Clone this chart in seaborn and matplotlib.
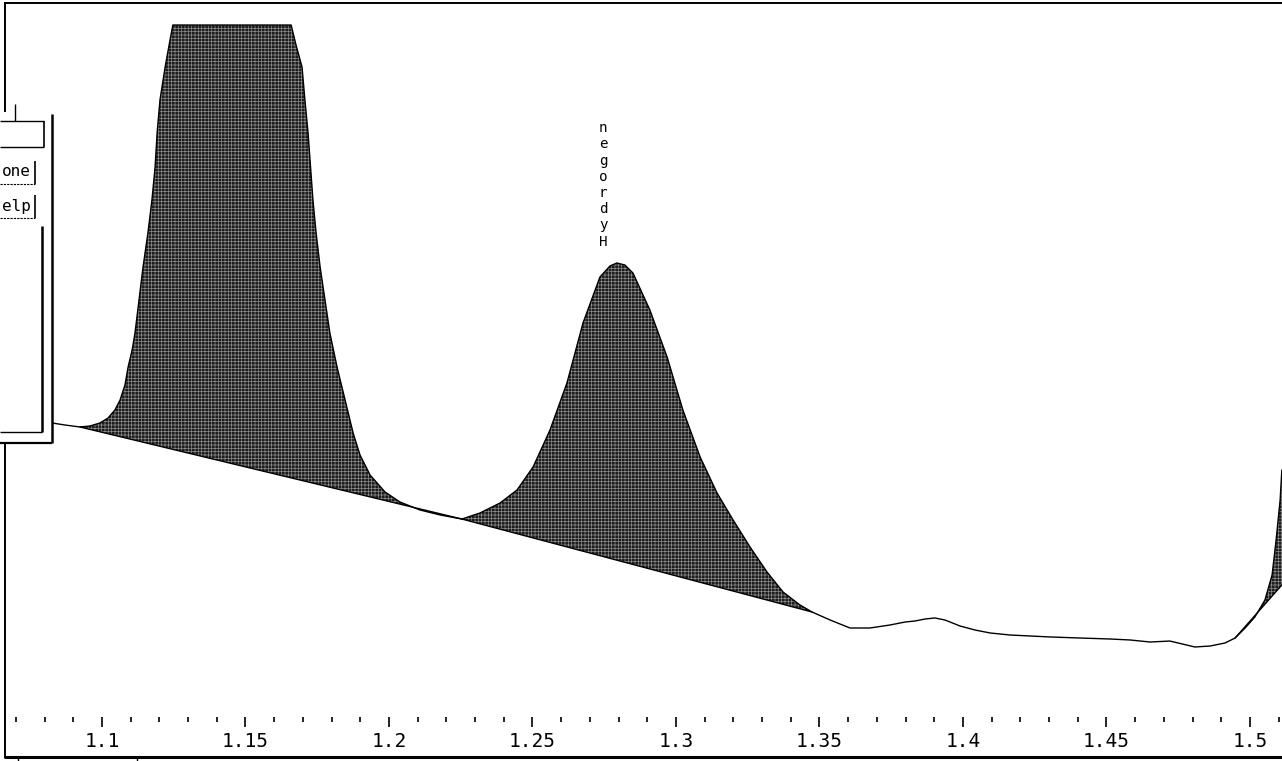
import numpy as np
import pandas as pd
import matplotlib
matplotlib.use("Agg")
import matplotlib.pyplot as plt
from matplotlib.patches import Rectangle
import seaborn as sns

# ---------------- data ----------------
# retention time (min)
time = [1.0826, 1.0871, 1.0923, 1.0958, 1.0993, 1.1021, 1.1045, 1.1063, 1.1080,
        1.1091, 1.1105, 1.1115, 1.1129, 1.1143, 1.1160, 1.1174, 1.1185, 1.1192,
        1.1202, 1.1220, 1.1237, 1.1247, 1.1659, 1.1676, 1.1697, 1.1707, 1.1718,
        1.1735, 1.1746, 1.1760, 1.1777, 1.1794, 1.1819, 1.1847, 1.1875, 1.1899,
        1.1934, 1.1986, 1.2038, 1.2108, 1.2178, 1.2254, 1.2317, 1.2387, 1.2446,
        1.2502, 1.2561, 1.2620, 1.2676, 1.2735, 1.2770, 1.2794, 1.2822, 1.2850,
        1.2909, 1.2969, 1.3024, 1.3084, 1.3143, 1.3199, 1.3258, 1.3317, 1.3373,
        1.3432, 1.3474, 1.3537, 1.3606, 1.3676, 1.3746, 1.3798, 1.3833, 1.3868,
        1.3902, 1.3937, 1.3990, 1.4042, 1.4094, 1.4164, 1.4303, 1.4408, 1.4512,
        1.4582, 1.4652, 1.4721, 1.4808, 1.4861, 1.4913, 1.4948, 1.4983, 1.5017,
        1.5052, 1.5077, 1.5091, 1.5105, 1.5111]
# detector signal, % of full scale (clipped at the top of the window)
signal = [44.30, 44.03, 43.77, 43.90, 44.30, 44.96, 46.02, 47.35, 49.34,
          51.72, 53.98, 56.23, 60.61, 64.99, 69.50, 73.87, 78.25, 82.76,
          87.14, 91.51, 95.09, 97.08, 97.08, 94.43, 91.51, 87.14, 82.76,
          73.87, 69.50, 64.99, 60.61, 56.23, 51.72, 47.35, 42.97, 40.05,
          37.40, 35.15, 33.82, 32.76, 32.10, 31.56, 32.36, 33.69, 35.41,
          38.46, 43.37, 49.60, 57.56, 63.66, 65.12, 65.52, 65.25, 64.19,
          59.28, 53.05, 46.02, 39.79, 35.01, 31.43, 27.85, 24.54, 21.88,
          20.16, 19.23, 18.17, 17.11, 17.11, 17.51, 17.90, 18.04, 18.30,
          18.44, 18.17, 17.37, 16.84, 16.45, 16.18, 15.92, 15.78, 15.65,
          15.52, 15.25, 15.38, 14.59, 14.72, 15.12, 15.78, 17.11, 18.57,
          20.82, 24.14, 28.78, 34.08, 38.06]

# integrated peaks: baseline drawn from start to end
peak_names = ["", "Hydrogen", ""]
peak_start = [1.0923, 1.2254, 1.4948]
peak_end = [1.2254, 1.3474, 1.5111]
baseline_start = [43.77, 31.56, 15.78]
baseline_end = [31.56, 19.23, 22.81]

# x axis ticks
major_ticks = [1.10, 1.15, 1.20, 1.25, 1.30, 1.35, 1.40, 1.45, 1.50]
tick_labels = ["1.1", "1.15", "1.2", "1.25", "1.3", "1.35", "1.4", "1.45", "1.5"]
minor_ticks = [round(1.07 + 0.01 * i, 2) for i in range(45)]

# partially visible dialog buttons on the left
panel_buttons = ["one", "elp"]

# ---------------- figure ----------------
sns.set_theme(style="white")
plt.rcParams["font.family"] = ["DejaVu Sans Mono", "DejaVu Sans"]
plt.rcParams["hatch.linewidth"] = 0.5

W, H = 1282, 761
fig = plt.figure(figsize=(W / 100, H / 100), dpi=100)
fig.patch.set_facecolor("white")
ax = fig.add_axes([5 / W, 4 / H, 1277 / W, 754 / H])
ax.set_facecolor("white")

x_left = 1.1 + (5 - 102) / 2870
x_right = 1.1 + (1282 - 102) / 2870
ax.set_xlim(x_left, x_right)
ax.set_ylim(0, 100)

df = pd.DataFrame({"time": time, "signal": signal})
t_arr = np.array(time)
s_arr = np.array(signal)

# shaded peak areas
for name, t0, t1, b0, b1 in zip(peak_names, peak_start, peak_end,
                                 baseline_start, baseline_end):
    m = (t_arr >= t0 - 1e-9) & (t_arr <= t1 + 1e-9)
    ts = t_arr[m]
    ss = s_arr[m]
    bs = np.interp(ts, [t0, t1], [b0, b1])
    ax.fill_between(ts, ss, bs, facecolor="#1c1c1c", edgecolor="#8c8c8c",
                    hatch="+++++", linewidth=0, zorder=2)
    ax.plot([t0, t1], [b0, b1], color="black", lw=1.0, zorder=3)
    if name:
        k = np.argmax(ss)
        ax.text(ts[k] - 0.0048, ss[k] + 1.9, "\n".join(reversed(name)),
                ha="center", va="bottom", fontsize=10.2, linespacing=1.2,
                color="black", zorder=4)

sns.lineplot(data=df, x="time", y="signal", sort=False, estimator=None,
             color="black", linewidth=1.0, ax=ax, zorder=3)

# axis styling
ax.set_xlabel("")
ax.set_ylabel("")
ax.set_yticks([])
ax.set_xticks(major_ticks)
ax.set_xticklabels(tick_labels)
ax.set_xticks(minor_ticks, minor=True)
ax.spines["bottom"].set_position(("data", 5.3))
ax.spines["bottom"].set_visible(False)
ax.spines["right"].set_visible(False)
for sp in ("left", "top"):
    ax.spines[sp].set_color("black")
    ax.spines[sp].set_linewidth(1.4)
ax.tick_params(axis="x", which="major", bottom=True, direction="out",
               length=7.0, width=1.2, color="black", pad=4,
               labelsize=14, labelcolor="black")
ax.tick_params(axis="x", which="minor", bottom=True, direction="out",
               length=3.6, width=1.2, color="black")
ax.axhline(0, color="black", lw=2.2, clip_on=False, zorder=5)

# ---------------- left dialog fragment (pixel overlay) ----------------
ov = fig.add_axes([0, 0, 1, 1], zorder=10)
ov.set_xlim(0, W)
ov.set_ylim(H, 0)
ov.axis("off")
ov.patch.set_alpha(0)

ov.add_patch(Rectangle((0, 112), 52, 331, facecolor="white", edgecolor="none"))
lk = dict(color="black", solid_capstyle="butt")
ov.plot([52, 52], [114, 443], lw=1.8, **lk)
ov.plot([0, 52], [443, 443], lw=1.6, **lk)
ov.plot([15, 15], [104, 121], lw=1.0, **lk)
ov.plot([0, 44], [121, 121], lw=1.0, **lk)
ov.plot([44, 44], [121, 147], lw=1.2, **lk)
ov.plot([0, 44], [147, 147], lw=1.0, **lk)
for lab, yc in zip(panel_buttons, [172, 206]):
    ov.text(2, yc, lab, ha="left", va="center", fontsize=11.5, color="black")
    ov.plot([35, 35], [yc - 11, yc + 12], lw=1.2, **lk)
    ov.plot([0, 35], [yc + 12, yc + 12], lw=0.8, ls=(0, (2, 1)), **lk)
ov.plot([42, 42], [226, 432], lw=1.8, **lk)
ov.plot([0, 42], [432, 432], lw=1.0, **lk)
ov.plot([18, 18], [757, 761], lw=1.0, **lk)
ov.plot([137, 137], [757, 761], lw=1.0, **lk)

fig.savefig("out.png", dpi=100, facecolor="white")
